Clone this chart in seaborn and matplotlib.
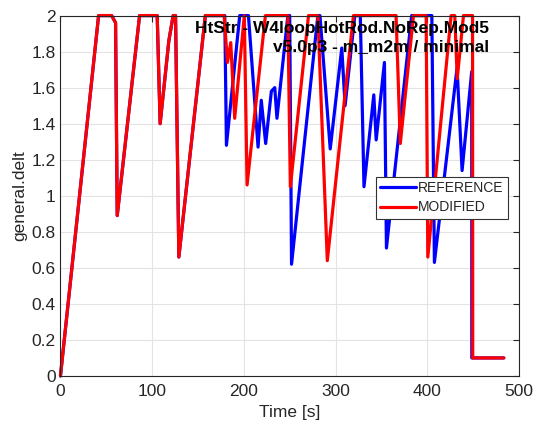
import numpy as np
import pandas as pd
import matplotlib
matplotlib.use("Agg")
import matplotlib.pyplot as plt
import seaborn as sns

# time [s] / general.delt
t_common = [0, 41.6, 55.8, 60.1, 61.9, 86.3, 105.5, 108.7, 118.2, 122.9, 125.5, 129.1, 158, 178.5]
y_common = [0, 2, 2, 1.96, 0.89, 2, 2, 1.40, 1.86, 2, 2, 0.66, 2, 2]

t_ref = [179.2, 181, 195.5, 205, 215.5, 219, 223.8, 230, 233.7, 236.1, 248, 250, 252,
         280.7, 283, 294.2, 306.8, 310.4, 321, 327, 331, 341.7, 344.3, 353.3, 355.5,
         383, 405, 407.8, 432.5, 438, 448.5, 448.6, 483.5]
y_ref = [2, 1.28, 2, 2, 1.27, 1.53, 1.29, 1.58, 1.60, 1.43, 2, 2, 0.62,
         2, 2, 1.26, 1.82, 1.50, 2, 2, 1.05, 1.56, 1.31, 1.74, 0.71,
         2, 2, 0.63, 1.71, 1.14, 1.69, 0.1, 0.1]

t_mod = [182.1, 185.7, 190, 200.5, 203.5, 223.5, 248, 250.7, 270.5, 280.7, 291, 319.5,
         366, 370.6, 385, 398.8, 400.6, 426, 430, 432.7, 439.5, 449.4, 449.6, 483.5]
y_mod = [1.74, 1.85, 1.43, 2, 1.06, 2, 2, 1.05, 2, 2, 0.64, 2,
         2, 1.29, 2, 2, 0.66, 2, 2, 1.65, 2, 2, 0.1, 0.1]

title_lines = ["HtStr - W4loopHotRod.NoRep.Mod5", "v5.0p3 - m_m2m / minimal"]

df = pd.concat([
    pd.DataFrame({"t": t_common + t_ref, "y": y_common + y_ref, "case": "REFERENCE"}),
    pd.DataFrame({"t": t_common + t_mod, "y": y_common + y_mod, "case": "MODIFIED"}),
], ignore_index=True)

sns.set_theme(style="white")
plt.rcParams["font.family"] = ["Liberation Sans", "DejaVu Sans"]

fig = plt.figure(figsize=(5.35, 4.21), dpi=100)
ax = fig.add_axes([0.113, 0.107, 0.857, 0.856])

sns.lineplot(data=df, x="t", y="y", hue="case", hue_order=["REFERENCE", "MODIFIED"],
             palette={"REFERENCE": "#0000ff", "MODIFIED": "#ff0000"},
             estimator=None, sort=False, linewidth=2.3, ax=ax)
for ln in ax.get_lines():
    ln.set_clip_on(False)

ax.set_xlim(0, 500)
ax.set_ylim(0, 2)
ax.set_xticks(np.arange(0, 501, 100))
ax.set_yticks(np.arange(0, 2.01, 0.2))
ax.set_yticklabels(["0", "0.2", "0.4", "0.6", "0.8", "1", "1.2", "1.4", "1.6", "1.8", "2"])
ax.grid(True, color="#e3e3e3", linewidth=0.8)
ax.set_axisbelow(True)
for s in ax.spines.values():
    s.set_color("#262626")
    s.set_linewidth(0.8)
ax.tick_params(direction="in", length=4, width=0.8, color="#262626",
               labelcolor="#262626", labelsize=12.5, top=True, right=True)
ax.tick_params(axis="x", pad=6)
ax.set_xlabel("Time [s]", fontsize=12.5, color="#262626", labelpad=4)
ax.set_ylabel("general.delt", fontsize=12.5, color="#262626", labelpad=3)

ax.text(0.935, 0.985, "\n".join(title_lines), transform=ax.transAxes,
        ha="right", va="top", multialignment="right", fontsize=12.5,
        fontweight="bold", color="black", linespacing=1.3, zorder=10)

leg = ax.legend(loc="upper right", bbox_to_anchor=(0.976, 0.553), fontsize=10,
                frameon=True, fancybox=False, edgecolor="#333333", framealpha=1,
                handlelength=2.6, handletextpad=0.15, borderpad=0.3,
                labelspacing=0.4, borderaxespad=0)
leg.get_frame().set_linewidth(0.8)

fig.savefig("out.png", dpi=100)
